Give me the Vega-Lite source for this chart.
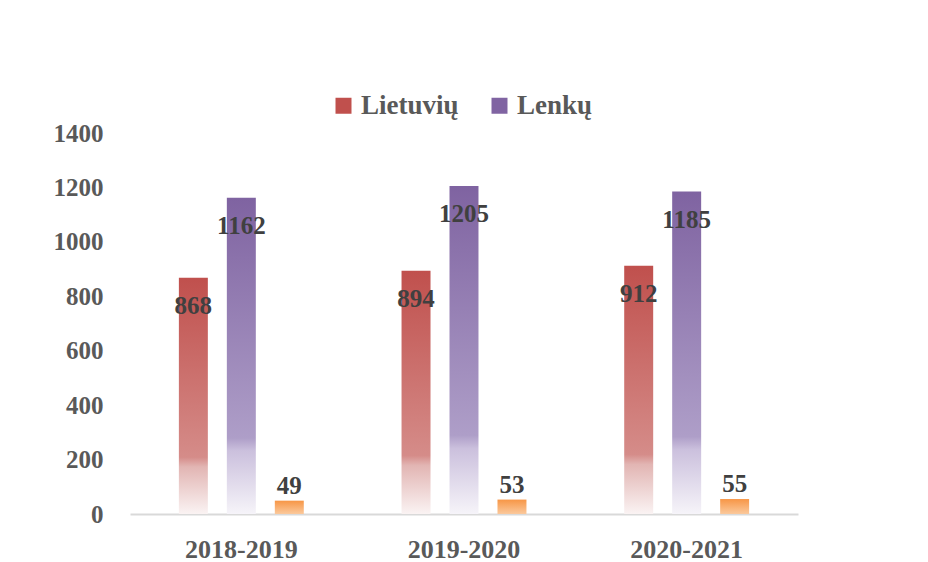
{
  "$schema": "https://vega.github.io/schema/vega-lite/v6.json",
  "width": 668,
  "height": 381,
  "autosize": {"type": "none"},
  "padding": {"left": 130, "top": 133, "right": 130, "bottom": 48},
  "background": "white",
  "config": {
    "view": {"stroke": null},
    "font": "Liberation Serif"
  },
  "data": {
    "values": [
      {"year": "2018-2019", "series": "Lietuvių", "value": 868},
      {"year": "2018-2019", "series": "Lenkų", "value": 1162},
      {"year": "2018-2019", "series": "Rusų", "value": 49},
      {"year": "2019-2020", "series": "Lietuvių", "value": 894},
      {"year": "2019-2020", "series": "Lenkų", "value": 1205},
      {"year": "2019-2020", "series": "Rusų", "value": 53},
      {"year": "2020-2021", "series": "Lietuvių", "value": 912},
      {"year": "2020-2021", "series": "Lenkų", "value": 1185},
      {"year": "2020-2021", "series": "Rusų", "value": 55}
    ]
  },
  "encoding": {
    "x": {
      "field": "year",
      "type": "nominal",
      "sort": null,
      "scale": {"paddingInner": 0.439, "paddingOuter": 0.2195},
      "axis": {
        "title": null,
        "labelAngle": 0,
        "labelFont": "Liberation Serif",
        "labelFontWeight": "bold",
        "labelFontSize": 26,
        "labelColor": "#595959",
        "labelPadding": 22,
        "ticks": false,
        "domainColor": "#d9d9d9",
        "domainWidth": 2
      }
    },
    "xOffset": {
      "field": "series",
      "type": "nominal",
      "sort": ["Lietuvių", "Lenkų", "Rusų"],
      "scale": {"domain": ["Lietuvių", "Lenkų", "Rusų"], "paddingInner": 0.396, "paddingOuter": 0}
    },
    "y": {
      "field": "value",
      "type": "quantitative",
      "scale": {"domain": [0, 1400], "nice": false},
      "axis": {
        "title": null,
        "format": "d",
        "values": [0, 200, 400, 600, 800, 1000, 1200, 1400],
        "grid": false,
        "domain": false,
        "ticks": false,
        "labelFont": "Liberation Serif",
        "labelFontWeight": "bold",
        "labelFontSize": 25,
        "labelColor": "#595959",
        "labelPadding": 27
      }
    }
  },
  "layer": [
    {
      "transform": [{"filter": "datum.series !== 'Rusų'"}],
      "mark": {"type": "bar", "opacity": 0},
      "encoding": {
        "fill": {
          "field": "series",
          "type": "nominal",
          "scale": {"domain": ["Lietuvių", "Lenkų"], "range": ["#c0504d", "#8064a2"]},
          "legend": {
            "title": null,
            "orient": "none",
            "direction": "horizontal",
            "legendX": 200,
            "legendY": -41,
            "padding": 0,
            "symbolType": "square",
            "symbolSize": 256,
            "symbolStrokeWidth": 0,
            "symbolOpacity": 1,
            "labelFont": "Liberation Serif",
            "labelFontWeight": "bold",
            "labelFontSize": 27,
            "labelColor": "#595959",
            "labelOffset": 4,
            "columnPadding": 27,
            "labelLimit": 300,
            "encode": {
              "symbols": {
                "update": {
                  "opacity": {"value": 1},
                  "fillOpacity": {"value": 1},
                  "fill": {"signal": "datum.value === 'Lietuvių' ? {gradient: 'linear', x1: 0, y1: 0, x2: 0, y2: 1, stops: [{offset: 0, color: '#c0504d'}, {offset: 0.6, color: '#d58c89'}, {offset: 1, color: '#faf3f3'}]} : {gradient: 'linear', x1: 0, y1: 0, x2: 0, y2: 1, stops: [{offset: 0, color: '#7f63a1'}, {offset: 0.6, color: '#ae9ec8'}, {offset: 1, color: '#f6f4f9'}]}"}
                }
              }
            }
          }
        }
      }
    },
    {
      "transform": [{"filter": "datum.series === 'Lietuvių'"}],
      "mark": {
        "type": "bar",
        "color": {"gradient": "linear", "x1": 0, "y1": 0, "x2": 0, "y2": 1, "stops": [
          {"offset": 0, "color": "#c0504d"},
          {"offset": 0.76, "color": "#d58c89"},
          {"offset": 0.8, "color": "#e2b5b3"},
          {"offset": 1, "color": "#faf3f3"}
        ]}
      },
      "encoding": {}
    },
    {
      "transform": [{"filter": "datum.series === 'Lenkų'"}],
      "mark": {
        "type": "bar",
        "color": {"gradient": "linear", "x1": 0, "y1": 0, "x2": 0, "y2": 1, "stops": [
          {"offset": 0, "color": "#7f63a1"},
          {"offset": 0.76, "color": "#ae9ec8"},
          {"offset": 0.8, "color": "#cbc0dd"},
          {"offset": 1, "color": "#f6f4f9"}
        ]}
      },
      "encoding": {}
    },
    {
      "transform": [{"filter": "datum.series === 'Rusų'"}],
      "mark": {
        "type": "bar",
        "color": {"gradient": "linear", "x1": 0, "y1": 0, "x2": 0, "y2": 1, "stops": [
          {"offset": 0, "color": "#f79646"},
          {"offset": 1, "color": "#fbc99c"}
        ]}
      },
      "encoding": {}
    },
    {
      "transform": [{"filter": "datum.series !== 'Rusų'"}],
      "mark": {
        "type": "text",
        "baseline": "middle",
        "align": "center",
        "dy": 28,
        "font": "Liberation Serif",
        "fontWeight": "bold",
        "fontSize": 25,
        "color": "#404040"
      },
      "encoding": {"text": {"field": "value", "type": "quantitative"}}
    },
    {
      "transform": [{"filter": "datum.series === 'Rusų'"}],
      "mark": {
        "type": "text",
        "baseline": "middle",
        "align": "center",
        "dy": -15,
        "font": "Liberation Serif",
        "fontWeight": "bold",
        "fontSize": 25,
        "color": "#404040"
      },
      "encoding": {"text": {"field": "value", "type": "quantitative"}}
    }
  ]
}
